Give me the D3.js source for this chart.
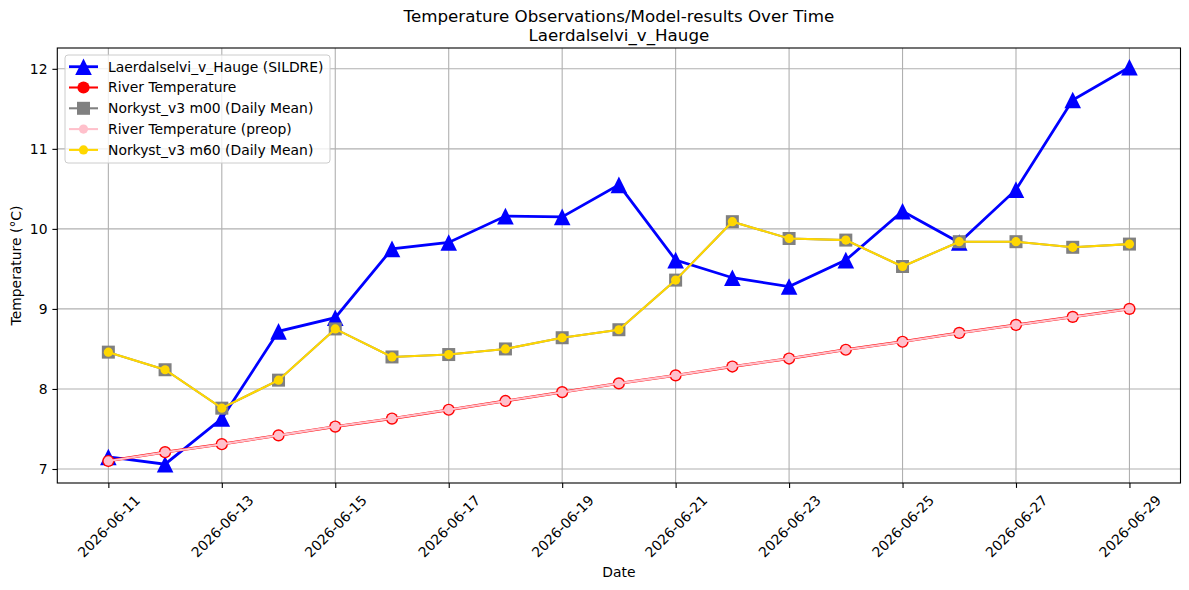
<!DOCTYPE html>
<html>
<head>
<meta charset="utf-8">
<script src="https://cdn.jsdelivr.net/npm/d3@7"></script>
<style>
body { margin: 0; background: #fff; }
text { font-family: "DejaVu Sans", sans-serif; fill: #000; }
</style>
</head>
<body>
<div id="chart"></div>
<script>
var dates = ["2026-06-11","2026-06-12","2026-06-13","2026-06-14","2026-06-15","2026-06-16","2026-06-17",
    "2026-06-18","2026-06-19","2026-06-20","2026-06-21","2026-06-22","2026-06-23","2026-06-24",
    "2026-06-25","2026-06-26","2026-06-27","2026-06-28","2026-06-29"];

var sildre = [7.15, 7.06, 7.63, 8.72, 8.89, 9.75, 9.83, 10.16, 10.15, 10.55, 9.61, 9.39, 9.28, 9.61, 10.22, 9.83, 10.49, 11.61, 12.02];
var riverTemp = [7.10, 7.21, 7.31, 7.42, 7.53, 7.63, 7.74, 7.85, 7.96, 8.07, 8.17, 8.28, 8.38, 8.49, 8.59, 8.70, 8.80, 8.90, 9.00];
var riverPreop = [7.10, 7.21, 7.31, 7.42, 7.53, 7.63, 7.74, 7.85, 7.96, 8.07, 8.17, 8.28, 8.38, 8.49, 8.59, 8.70, 8.80, 8.90, 9.00];
var m00 = [8.46, 8.24, 7.76, 8.11, 8.75, 8.40, 8.43, 8.50, 8.64, 8.74, 9.36, 10.09, 9.88, 9.86, 9.53, 9.84, 9.84, 9.77, 9.81];
var m60 = [8.46, 8.24, 7.76, 8.11, 8.75, 8.40, 8.43, 8.50, 8.64, 8.74, 9.36, 10.09, 9.88, 9.86, 9.53, 9.84, 9.84, 9.77, 9.81];
var yTicks = [7, 8, 9, 10, 11, 12];
var legendNames = ["Laerdalselvi_v_Hauge (SILDRE)", "River Temperature", "Norkyst_v3 m00 (Daily Mean)",
    "River Temperature (preop)", "Norkyst_v3 m60 (Daily Mean)"];

var W = 1189, H = 590;
var m = {left: 57.3, right: 8.5, top: 48, bottom: 107};

var parse = d3.utcParse("%Y-%m-%d");
var fmt = d3.utcFormat("%Y-%m-%d");
var xs = dates.map(parse);
var DAY = 86400000;

var svg = d3.select("#chart").append("svg").attr("width", W).attr("height", H);

var xScale = d3.scaleUtc()
    .domain([new Date(+xs[0] - 0.9 * DAY), new Date(+xs[xs.length - 1] + 0.9 * DAY)])
    .range([m.left, W - m.right]);
var yScale = d3.scaleLinear()
    .domain([6.825, 12.26])
    .range([H - m.bottom, m.top]);

var xTickVals = xs.filter((d, i) => i % 2 === 0);

// grid
var grid = svg.append("g");
xTickVals.forEach(function(d) {
    grid.append("line").attr("x1", xScale(d)).attr("x2", xScale(d))
        .attr("y1", m.top).attr("y2", H - m.bottom)
        .attr("stroke", "#b0b0b0").attr("stroke-width", 1.1);
});
yTicks.forEach(function(d) {
    grid.append("line").attr("x1", m.left).attr("x2", W - m.right)
        .attr("y1", yScale(d)).attr("y2", yScale(d))
        .attr("stroke", "#b0b0b0").attr("stroke-width", 1.1);
});

// axes
var xAxis = d3.axisBottom(xScale).tickValues(xTickVals).tickFormat(fmt).tickSizeOuter(0).tickSize(4.9).tickPadding(4.9);
var yAxis = d3.axisLeft(yScale).tickValues(yTicks).tickFormat(d3.format("d")).tickSizeOuter(0).tickSize(4.9).tickPadding(4.9);

var gx = svg.append("g").attr("transform", `translate(0,${H - m.bottom})`).call(xAxis);
var gy = svg.append("g").attr("transform", `translate(${m.left},0)`).call(yAxis);
[gx, gy].forEach(function(g) {
    g.select(".domain").remove();
    g.selectAll(".tick line").attr("stroke", "#000").attr("stroke-width", 1.1);
    g.selectAll(".tick text").style("font-size", "13.9px").attr("fill", "#000");
});
gx.selectAll(".tick text").each(function() {
    var t = d3.select(this);
    var w = this.getComputedTextLength();
    var h = 13.9;
    var half = (w + h) * 0.7071 / 2;
    t.attr("y", null).attr("dy", null)
        .attr("text-anchor", "middle")
        .attr("dominant-baseline", "central")
        .attr("transform", `translate(0,${9.8 + half}) rotate(-45)`);
});

// frame
svg.append("rect").attr("x", m.left).attr("y", m.top)
    .attr("width", W - m.left - m.right).attr("height", H - m.top - m.bottom)
    .attr("fill", "none").attr("stroke", "#000").attr("stroke-width", 1.1);

var line = d3.line().x((d, i) => xScale(xs[i])).y(d => yScale(d));
var tri = "M0,-8.3L8.3,8.3L-8.3,8.3Z";

// SILDRE
svg.append("path").datum(sildre).attr("d", line)
    .attr("fill", "none").attr("stroke", "#0000ff").attr("stroke-width", 2.78);
svg.selectAll(".tri").data(sildre).enter().append("path")
    .attr("d", tri)
    .attr("transform", (d, i) => `translate(${xScale(xs[i])},${yScale(d)})`)
    .attr("fill", "#0000ff");

// River temperature
svg.append("path").datum(riverTemp).attr("d", line)
    .attr("fill", "none").attr("stroke", "#ff0000").attr("stroke-width", 2.8);
svg.selectAll(".rc").data(riverTemp).enter().append("circle")
    .attr("cx", (d, i) => xScale(xs[i])).attr("cy", d => yScale(d))
    .attr("r", 6.1).attr("fill", "#ff0000");

// m00
svg.append("path").datum(m00).attr("d", line)
    .attr("fill", "none").attr("stroke", "#808080").attr("stroke-width", 2.08);
svg.selectAll(".sq").data(m00).enter().append("rect")
    .attr("x", (d, i) => xScale(xs[i]) - 6.5).attr("y", d => yScale(d) - 6.5)
    .attr("width", 13).attr("height", 13).attr("fill", "#808080");

// preop
svg.append("path").datum(riverPreop).attr("d", line)
    .attr("fill", "none").attr("stroke", "#ffc0cb").attr("stroke-width", 2.08);
svg.selectAll(".pc").data(riverPreop).enter().append("circle")
    .attr("cx", (d, i) => xScale(xs[i])).attr("cy", d => yScale(d))
    .attr("r", 4.7).attr("fill", "#ffc0cb");

// m60
svg.append("path").datum(m60).attr("d", line)
    .attr("fill", "none").attr("stroke", "#ffd700").attr("stroke-width", 2.08);
svg.selectAll(".yc").data(m60).enter().append("circle")
    .attr("cx", (d, i) => xScale(xs[i])).attr("cy", d => yScale(d))
    .attr("r", 4.6).attr("fill", "#ffd700");

// legend
var lg = svg.append("g");
lg.append("rect").attr("x", 65).attr("y", 55).attr("width", 265).attr("height", 108)
    .attr("rx", 3).attr("fill", "#fff").attr("fill-opacity", 0.8)
    .attr("stroke", "#cccccc").attr("stroke-width", 1);
var rowY = [66.7, 87.5, 108.3, 129.1, 149.9];
var lcol = ["#0000ff", "#ff0000", "#808080", "#ffc0cb", "#ffd700"];
legendNames.forEach(function(name, i) {
    var y = rowY[i];
    lg.append("line").attr("x1", 69).attr("x2", 98).attr("y1", y).attr("y2", y)
        .attr("stroke", lcol[i]).attr("stroke-width", i === 0 ? 2.78 : 2.08);
    if (i === 0) {
        lg.append("path").attr("d", tri).attr("transform", `translate(83.5,${y})`).attr("fill", lcol[i]);
    } else if (i === 1) {
        lg.append("circle").attr("cx", 83.5).attr("cy", y).attr("r", 6.1).attr("fill", lcol[i]);
    } else if (i === 2) {
        lg.append("rect").attr("x", 77).attr("y", y - 6.5).attr("width", 13).attr("height", 13).attr("fill", lcol[i]);
    } else {
        lg.append("circle").attr("cx", 83.5).attr("cy", y).attr("r", 4.6).attr("fill", lcol[i]);
    }
    lg.append("text").attr("x", 108).attr("y", y).attr("dy", "0.35em")
        .style("font-size", "13.9px").text(name);
});

// titles
svg.append("text").attr("x", (m.left + W - m.right) / 2).attr("y", 22)
    .attr("text-anchor", "middle").style("font-size", "16.7px")
    .text("Temperature Observations/Model-results Over Time");
svg.append("text").attr("x", (m.left + W - m.right) / 2).attr("y", 41)
    .attr("text-anchor", "middle").style("font-size", "16.7px")
    .text("Laerdalselvi_v_Hauge");
svg.append("text").attr("x", (m.left + W - m.right) / 2).attr("y", 577)
    .attr("text-anchor", "middle").style("font-size", "13.9px").text("Date");
svg.append("text").attr("transform", `translate(21,${(m.top + H - m.bottom) / 2}) rotate(-90)`)
    .attr("text-anchor", "middle").style("font-size", "13.9px").text("Temperature (°C)");
</script>
</body>
</html>
